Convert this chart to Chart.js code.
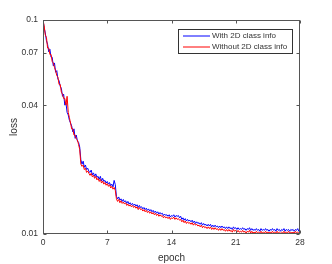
<!DOCTYPE html>
<html>
<head>
<meta charset="utf-8">
<script src="https://cdn.jsdelivr.net/npm/chart.js@4.4.1/dist/chart.umd.min.js"></script>
<style>
html,body{margin:0;padding:0;background:#fff;}
canvas{display:block;}
</style>
</head>
<body>
<canvas id="c" width="332" height="264"></canvas>
<script>
// epochs sampled every 1/8 epoch, 0..28
const epochs = Array.from({length:225}, (_, i) => i * 0.125);
const lossWith = [
0.100,
0.092,0.087,0.080,0.077,0.071,0.073,0.067,0.067,
0.061,0.063,0.057,0.058,0.053,0.052,0.049,0.048,
0.044,0.045,0.040,0.041,0.037,0.036,0.034,0.033,
0.032,0.030,0.031,0.028,0.029,0.0272,0.0268,0.0255,
0.0222,0.0212,0.0219,0.0205,0.0210,0.0200,0.0203,0.0196,
0.0194,0.0199,0.0189,0.0193,0.0186,0.0191,0.0184,0.0186,
0.0180,0.0186,0.0177,0.0182,0.0176,0.0178,0.0173,0.0176,
0.0171,0.0174,0.0168,0.0171,0.0166,0.0178,0.0170,0.0150,
0.0146,0.0149,0.0144,0.0146,0.0142,0.0145,0.0141,0.0143,
0.0139,0.0142,0.0138,0.0140,0.0137,0.0139,0.0136,0.0138,
0.0135,0.0137,0.0133,0.0136,0.0133,0.0134,0.0131,0.0133,
0.0130,0.0132,0.0129,0.0131,0.0128,0.0130,0.0127,0.0129,
0.0126,0.0128,0.0125,0.0127,0.0124,0.0126,0.0124,0.0125,
0.0122,0.0124,0.0122,0.0123,0.0121,0.0123,0.0120,0.0122,
0.0121,0.0123,0.0120,0.0122,0.0121,0.0122,0.0119,0.0121,
0.0117,0.0119,0.0116,0.0118,0.0115,0.0117,0.0115,0.0116,
0.0114,0.0116,0.0113,0.0115,0.0112,0.0114,0.0112,0.0113,
0.0111,0.0113,0.0110,0.0112,0.0110,0.0111,0.0109,0.0111,
0.0109,0.0111,0.0108,0.0110,0.0108,0.0110,0.0108,0.0109,
0.0107,0.0109,0.0107,0.0109,0.0107,0.0108,0.0106,0.0108,
0.0106,0.0108,0.0106,0.0107,0.0105,0.0108,0.0106,0.0107,
0.0105,0.0107,0.0105,0.0106,0.0105,0.0107,0.0105,0.0106,
0.0104,0.0106,0.0105,0.0107,0.0104,0.0106,0.0104,0.0105,
0.0104,0.0106,0.0104,0.0105,0.0103,0.0106,0.0104,0.0105,
0.0104,0.0106,0.0104,0.0105,0.0103,0.0105,0.0104,0.0106,
0.0104,0.0105,0.0103,0.0106,0.0104,0.0105,0.0103,0.0105,
0.0104,0.0106,0.0103,0.0105,0.0104,0.0105,0.0103,0.0105,
0.0104,0.0105,0.0103,0.0105,0.0104,0.0106,0.0103,0.0105
];
const lossWithout = [
0.100,
0.094,0.085,0.083,0.074,0.074,0.069,0.069,0.064,
0.063,0.060,0.058,0.055,0.054,0.050,0.050,0.046,
0.045,0.043,0.043,0.040,0.044,0.037,0.035,0.033,
0.031,0.031,0.029,0.029,0.0278,0.0275,0.0262,0.0248,
0.0212,0.0207,0.0210,0.0200,0.0203,0.0194,0.0197,0.0192,
0.0188,0.0192,0.0185,0.0188,0.0182,0.0186,0.0179,0.0182,
0.0176,0.0180,0.0173,0.0177,0.0171,0.0174,0.0169,0.0172,
0.0167,0.0170,0.0164,0.0167,0.0162,0.0165,0.0160,0.0146,
0.0142,0.0145,0.0140,0.0143,0.0139,0.0141,0.0138,0.0140,
0.0136,0.0138,0.0135,0.0137,0.0134,0.0136,0.0133,0.0135,
0.0132,0.0134,0.0130,0.0133,0.0130,0.0131,0.0128,0.0130,
0.0127,0.0129,0.0126,0.0128,0.0125,0.0127,0.0124,0.0126,
0.0123,0.0125,0.0122,0.0124,0.0121,0.0123,0.0121,0.0122,
0.0119,0.0121,0.0119,0.0120,0.0118,0.0120,0.0117,0.0119,
0.0118,0.0120,0.0117,0.0119,0.0117,0.0118,0.0116,0.0117,
0.0114,0.0116,0.0113,0.0115,0.0112,0.0114,0.0112,0.0113,
0.0111,0.0113,0.0110,0.0112,0.0110,0.0111,0.0109,0.0110,
0.0108,0.0110,0.0107,0.0109,0.0107,0.0108,0.0106,0.0108,
0.0106,0.0108,0.0105,0.0107,0.0105,0.0107,0.0105,0.0106,
0.0104,0.0106,0.0104,0.0106,0.0104,0.0105,0.0103,0.0105,
0.0103,0.0105,0.0103,0.0104,0.0102,0.0105,0.0103,0.0104,
0.0102,0.0104,0.0102,0.0103,0.0102,0.0104,0.0102,0.0103,
0.0101,0.0103,0.0102,0.0104,0.0101,0.0103,0.0101,0.0102,
0.0101,0.0103,0.0101,0.0102,0.0101,0.0103,0.0101,0.0102,
0.0101,0.0103,0.0101,0.0102,0.0101,0.0102,0.0101,0.0103,
0.0101,0.0102,0.0101,0.0103,0.0101,0.0102,0.0101,0.0102,
0.0101,0.0103,0.0101,0.0102,0.0101,0.0103,0.0101,0.0102,
0.0101,0.0102,0.0101,0.0103,0.0101,0.0102,0.0101,0.0102
];
const seriesLabels = ['With 2D class info', 'Without 2D class info'];
const seriesColors = ['#0000ff', '#ff0000'];
const xTicks = [0, 7, 14, 21, 28];
const yTicks = [0.01, 0.04, 0.07, 0.1];
const yTickLabels = ['0.01', '0.04', '0.07', '0.1'];

const FONT = "'Liberation Sans', Arial, Helvetica, sans-serif";
const TXT = '#333333';

const boxPlugin = {
  id: 'box',
  afterDraw(chart) {
    const {ctx, chartArea: a, scales} = chart;
    ctx.save();
    ctx.strokeStyle = '#555555';
    ctx.lineWidth = 1;
    const L = Math.round(a.left) + 0.5, R = Math.round(a.right) - 0.5;
    const T = Math.round(a.top) + 0.5, B = Math.round(a.bottom) - 0.5;
    ctx.strokeRect(L, T, R - L, B - T);
    ctx.beginPath();
    const tl = 3;
    xTicks.forEach(v => {
      const x = Math.round(scales.x.getPixelForValue(v)) + 0.5;
      ctx.moveTo(x, B); ctx.lineTo(x, B - tl);
      ctx.moveTo(x, T); ctx.lineTo(x, T + tl);
    });
    yTicks.forEach(v => {
      const y = Math.round(scales.y.getPixelForValue(v)) + 0.5;
      ctx.moveTo(L, y); ctx.lineTo(L + tl, y);
      ctx.moveTo(R, y); ctx.lineTo(R - tl, y);
    });
    ctx.stroke();
    // legend
    const lx = 178.5, ly = 29.5, lw = 114, lh = 24;
    ctx.fillStyle = '#ffffff';
    ctx.fillRect(lx, ly, lw, lh);
    ctx.strokeStyle = '#333333';
    ctx.strokeRect(lx, ly, lw, lh);
    ctx.font = '8px ' + FONT;
    ctx.textBaseline = 'middle';
    ctx.textAlign = 'left';
    seriesLabels.forEach((lab, i) => {
      const yy = 36 + i * 11;
      ctx.strokeStyle = seriesColors[i];
      ctx.beginPath();
      ctx.moveTo(183, yy); ctx.lineTo(210, yy);
      ctx.stroke();
      ctx.fillStyle = TXT;
      ctx.fillText(lab, 212, yy);
    });
    ctx.restore();
  }
};

new Chart(document.getElementById('c'), {
  type: 'line',
  data: {
    datasets: [
      { label: seriesLabels[0], data: epochs.map((e, i) => ({x: e, y: lossWith[i]})),
        borderColor: seriesColors[0], borderWidth: 1, pointRadius: 0, order: 1 },
      { label: seriesLabels[1], data: epochs.map((e, i) => ({x: e, y: lossWithout[i]})),
        borderColor: seriesColors[1], borderWidth: 1, pointRadius: 0, order: 0 }
    ]
  },
  options: {
    responsive: false,
    animation: false,
    events: [],
    layout: { padding: { left: 0, top: 20, right: 32, bottom: 0 } },
    plugins: { legend: { display: false }, tooltip: { enabled: false } },
    scales: {
      x: {
        type: 'linear', min: 0, max: 28,
        afterBuildTicks: s => { s.ticks = xTicks.map(v => ({value: v})); },
        afterFit: s => { s.height = 30; },
        grid: { display: false, drawTicks: false },
        border: { display: false },
        ticks: { color: TXT, font: { family: FONT, size: 8.5 }, padding: 4, maxRotation: 0,
                 callback: v => String(v) },
        title: { display: true, text: 'epoch', color: TXT, font: { family: FONT, size: 10 },
                 padding: { top: 0, bottom: 0 } }
      },
      y: {
        type: 'logarithmic', min: 0.01, max: 0.1,
        afterBuildTicks: s => { s.ticks = yTicks.map(v => ({value: v})); },
        afterFit: s => { s.width = 43; },
        grid: { display: false, drawTicks: false },
        border: { display: false },
        ticks: { color: TXT, font: { family: FONT, size: 8.5 }, padding: 5,
                 callback: (v) => { const i = yTicks.indexOf(v); return i >= 0 ? yTickLabels[i] : ''; } },
        title: { display: true, text: 'loss', color: TXT, font: { family: FONT, size: 10 },
                 padding: { top: 8, bottom: 0 } }
      }
    }
  },
  plugins: [boxPlugin]
});
</script>
</body>
</html>
